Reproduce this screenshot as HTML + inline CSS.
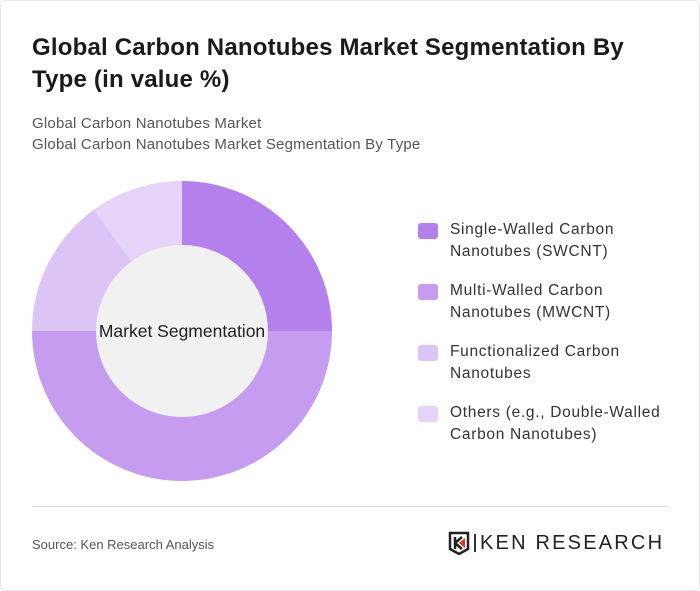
<!DOCTYPE html>
<html><head><meta charset="utf-8"><style>
body{margin:0;width:700px;height:591px;background:#fff;font-family:"Liberation Sans",sans-serif;overflow:hidden}
.card{position:absolute;left:0;top:0;width:698px;height:589px;border:1px solid #e6e6e6;border-radius:6px;background:#fff}
.t{position:absolute;left:32px;top:32px;font-size:24px;font-weight:bold;color:#1a1a1a;line-height:32px;width:640px;letter-spacing:0.2px}
.s{position:absolute;left:32px;top:113px;font-size:15px;color:#555;line-height:21px;letter-spacing:0.2px}
.lg{position:absolute;left:418px;font-size:15.5px;color:#333;line-height:22px;letter-spacing:0.7px}
.sw{position:absolute;left:0;top:4px;width:20px;height:16px;border-radius:3px}
.lt{position:absolute;left:32px;top:0;width:250px}
.hr{position:absolute;left:32px;top:506px;width:636px;height:1px;background:#ddd}
.src{position:absolute;left:32px;top:537px;font-size:13px;color:#555}
</style></head><body>
<div class="card"></div>
<div class="t">Global Carbon Nanotubes Market Segmentation By Type (in value %)</div>
<div class="s">Global Carbon Nanotubes Market<br>Global Carbon Nanotubes Market Segmentation By Type</div>
<svg id="donut" style="position:absolute;left:0;top:0" width="400" height="500"></svg>
<div id="legend"></div>
<div class="hr"></div>
<div class="src">Source: Ken Research Analysis</div>
<div style="position:absolute;left:448px;top:531px;width:230px;height:24px">
<svg width="24" height="24" style="position:absolute;left:0;top:0"><path d="M2 2h18v16l-9 5-9-5z" fill="#fff" stroke="#222" stroke-width="2.5"/><path d="M7 6v12M7 12l7-6M7 12l7 6" stroke="#222" stroke-width="2.5" fill="none"/><path d="M11 12l6-5v10z" fill="#d32"/></svg>
<div style="position:absolute;left:26px;top:3px;width:1.5px;height:18px;background:#333"></div>
<div style="position:absolute;left:32px;top:1px;font-size:20px;color:#222;letter-spacing:2.2px">KEN RESEARCH</div>
</div>
<script>
const categories=["Single-Walled Carbon Nanotubes (SWCNT)","Multi-Walled Carbon Nanotubes (MWCNT)","Functionalized Carbon Nanotubes","Others (e.g., Double-Walled Carbon Nanotubes)"];
const legendLines=[["Single-Walled Carbon","Nanotubes (SWCNT)"],["Multi-Walled Carbon","Nanotubes (MWCNT)"],["Functionalized Carbon","Nanotubes"],["Others (e.g., Double-Walled","Carbon Nanotubes)"]];
const values=[25,50,15,10];
const colors=["#b480ec","#c69cf0","#dcc5f6","#e5d3f8"];
const ns="http://www.w3.org/2000/svg";
const svg=document.getElementById('donut');
const cx=182,cy=331,R=150,r=86;
const total=values.reduce((a,b)=>a+b,0);
let a0=0;
function pt(a,rad){return [cx+rad*Math.sin(a),cy-rad*Math.cos(a)];}
values.forEach((v,i)=>{
  const a1=a0+v/total*2*Math.PI;
  const [x0,y0]=pt(a0,R),[x1,y1]=pt(a1,R);
  const lg=(a1-a0)>Math.PI?1:0;
  const p=document.createElementNS(ns,'path');
  p.setAttribute('d',`M${cx},${cy}L${x0},${y0}A${R},${R} 0 ${lg} 1 ${x1},${y1}Z`);
  p.setAttribute('fill',colors[i]);
  
  
  svg.appendChild(p);
  a0=a1;
});
const c=document.createElementNS(ns,'circle');
c.setAttribute('cx',cx);c.setAttribute('cy',cy);c.setAttribute('r',r);c.setAttribute('fill','#f1f1f1');


svg.appendChild(c);
const t=document.createElementNS(ns,'text');
t.setAttribute('x',cx);t.setAttribute('y',cy+6);t.setAttribute('text-anchor','middle');
t.setAttribute('font-size','17.5');t.setAttribute('fill','#222');t.setAttribute('font-family','Liberation Sans, sans-serif');
t.textContent='Market Segmentation';


svg.appendChild(t);
const lgd=document.getElementById('legend');
categories.forEach((cat,i)=>{
  const d=document.createElement('div');
  d.className='lg';d.style.top=(219+i*61)+'px';
  
  
  d.innerHTML=`<div class="sw" style="background:${colors[i]}"></div><div class="lt">${legendLines[i][0]}<br>${legendLines[i][1]}</div>`;
  lgd.appendChild(d);
});
</script>
</body></html>
